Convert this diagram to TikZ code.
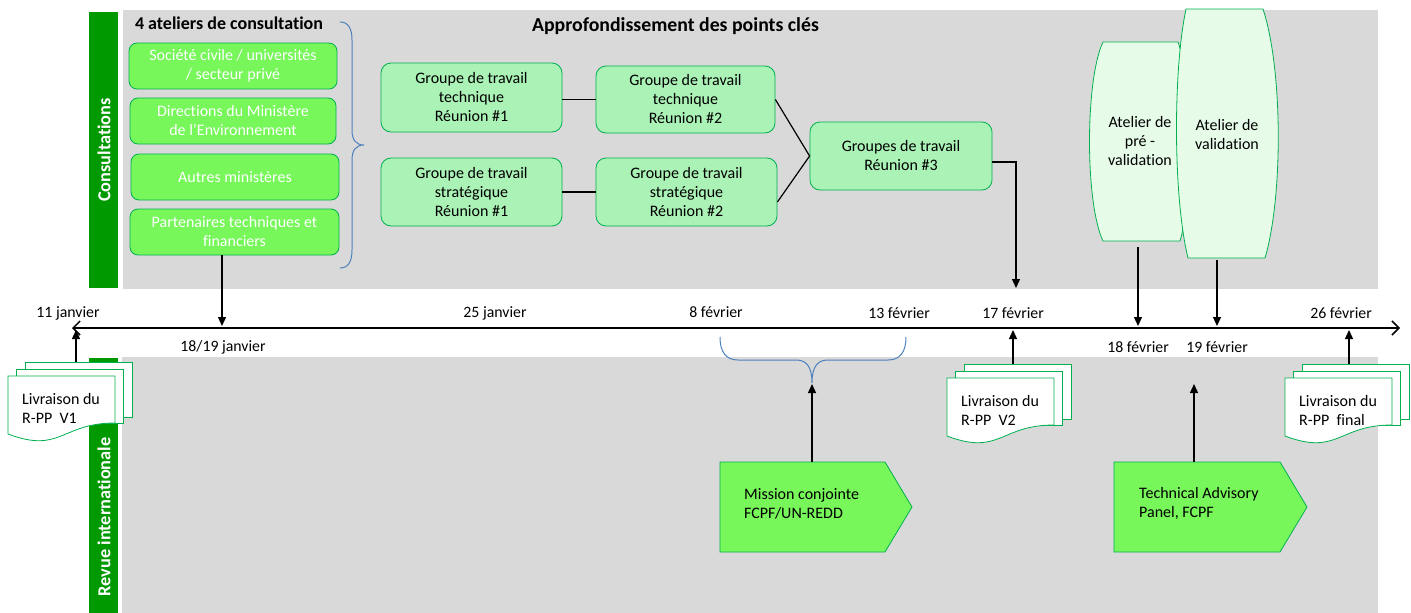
\documentclass[tikz,border=0pt]{standalone}
\usepackage{fontspec}
\setmainfont{Carlito}[RawFeature=-liga]
\usetikzlibrary{arrows.meta,calc}
\definecolor{greyband}{HTML}{D9D9D9}
\definecolor{darkgreen}{HTML}{009900}
\definecolor{brightgreen}{HTML}{77F75A}
\definecolor{lightgreen}{HTML}{AAF2B5}
\definecolor{palegreen}{HTML}{E6FCE8}
\definecolor{bordergreen}{HTML}{00B050}
\definecolor{braceblue}{HTML}{4F81BD}
\newcommand\mydocs[4]{%
  \draw[docpage] (#1+17,#2-14) rectangle (#1+124,#2+41);
  \draw[docpage] (#1+8.5,#2-7) rectangle (#1+115.5,#2+47);
  \draw[docpage] (#1,#2) -- (#1+107,#2) -- (#1+107,#2+47) .. controls (#1+53,#2+47) and (#1+53,#2+78) .. (#1,#2+58) -- cycle;
  \node[doctext, anchor=west] (#3) at (#1+14,#2+32.5) {#4};
}
\begin{document}
\begin{tikzpicture}[x=1pt,y=-1pt,
  every node/.style={inner sep=0pt, font=\fontsize{16}{19}\selectfont},
  band/.style={fill=greyband, draw=none},
  sidebar/.style={fill=darkgreen, draw=none},
  sidetext/.style={rotate=90, text=white, font=\fontsize{18.3}{20}\selectfont\bfseries},
  header/.style={anchor=base, font=\fontsize{18}{20}\selectfont\bfseries},
  atelierbox/.style={draw=bordergreen, fill=brightgreen, rounded corners=8pt, text=white, align=center, line width=0.8pt, minimum height=46pt},
  groupbox/.style={draw=bordergreen, fill=lightgreen, rounded corners=10pt, align=center, line width=0.8pt},
  scrollshape/.style={draw=bordergreen, fill=palegreen, line width=0.8pt},
  signalshape/.style={draw=bordergreen, fill=brightgreen, line width=0.8pt},
  docpage/.style={draw=bordergreen, fill=white, line width=0.8pt},
  doctext/.style={align=left},
  datelabel/.style={anchor=base, font=\fontsize{15.8}{18}\selectfont},
  link/.style={line width=1.2pt},
  arrowline/.style={line width=1.3pt, -{Triangle[length=9pt,width=8pt]}},
  timeline/.style={line width=1.5pt, {Straight Barb[length=7pt,width=14pt]}-{Straight Barb[length=7pt,width=14pt]}},
  bracestyle/.style={draw=braceblue, line width=1pt}
]
\useasboundingbox (0,0) rectangle (1411,613);
% bands
\fill[band] (123,10) rectangle (1378,289);
\fill[band] (122,357) rectangle (1378,613);
\fill[sidebar] (89,12) rectangle (118,288);
\fill[sidebar] (89,358) rectangle (118,613);
\node[sidetext] (consult) at (104,150) {Consultations};
\node[sidetext] (revue) at (104,517) {Revue internationale};
% headers
\node[header] (hdr1) at (229,29) {4 ateliers de consultation};
\node[header, font=\fontsize{19.8}{22}\selectfont\bfseries] (hdr2) at (675.5,31) {Approfondissement des points clés};
% left boxes
\node[atelierbox, minimum width=208pt] (s1) at (233,66) {Société civile / universités\\/ secteur privé};
\node[atelierbox, minimum width=206pt] (s2) at (233,121) {Directions du Ministère\\de l’Environnement};
\node[atelierbox, minimum width=208pt] (s3) at (235,177) {Autres ministères};
\node[atelierbox, minimum width=209pt] (s4) at (234.5,232) {Partenaires techniques et\\financiers};
% brace top
\draw[bracestyle] (340,22) .. controls (348,22) and (352,28) .. (352,40) -- (352,130) .. controls (352,140) and (356,145) .. (364,145) .. controls (356,145) and (352,150) .. (352,160) -- (352,250) .. controls (352,262) and (348,268) .. (340,268);
% group boxes
\node[groupbox, minimum width=181pt, minimum height=69pt] (gt1) at (471.5,97.5) {Groupe de travail\\technique\\Réunion \#1};
\node[groupbox, minimum width=179pt, minimum height=67pt] (gt2) at (685.5,99.5) {Groupe de travail\\technique\\Réunion \#2};
\node[groupbox, minimum width=181pt, minimum height=68pt] (gs1) at (471.5,192) {Groupe de travail\\stratégique\\Réunion \#1};
\node[groupbox, minimum width=181pt, minimum height=68pt] (gs2) at (686.5,192) {Groupe de travail\\stratégique\\Réunion \#2};
\node[groupbox, minimum width=182pt, minimum height=68pt] (g3) at (901,156) {Groupes de travail\\Réunion \#3};
\draw[link] (gt1.east |- gt2.west) -- (gt2.west);
\draw[link] (gs1.east) -- (gs2.west);
\draw[link] (gt2.east) -- (g3.west);
\draw[link] ($(gs2.east)+(0,10)$) -- (g3.west);
% ateliers de validation
\path[scrollshape] (1103,42) -- (1178,42) .. controls (1192,80) and (1192,203) .. (1180,241) -- (1103,241) .. controls (1085,203) and (1085,80) .. (1103,42) -- cycle;
\node[align=center] (pv) at (1140,141.5) {Atelier de\\pré -\\validation};
\path[scrollshape] (1186,9) -- (1263,9) .. controls (1283,70) and (1283,197) .. (1265,258) -- (1188,258) .. controls (1173,197) and (1173,70) .. (1186,9) -- cycle;
\node[align=center] (va) at (1227,134.5) {Atelier de\\validation};
% timeline
\coordinate (axL) at (72,328);
\coordinate (axR) at (1400,328);
\draw[timeline] (axL) -- (axR);
% date labels
\node[datelabel] (d11) at (68,317) {11 janvier};
\node[datelabel] (d25) at (495,317) {25 janvier};
\node[datelabel] (d8) at (716,317) {8 février};
\node[datelabel] (d13) at (899,318) {13 février};
\node[datelabel] (d17) at (1013,318) {17 février};
\node[datelabel] (d26) at (1341,318) {26 février};
\node[datelabel] (d1819) at (223,351) {18/19 janvier};
\node[datelabel] (d18) at (1138,352) {18 février};
\node[datelabel] (d19) at (1217,352) {19 février};
% arrows down to timeline
\coordinate (t1819) at (222,326);
\draw[arrowline] (s4.south -| t1819) -- (t1819);
\coordinate (g3end) at (1016,288);
\draw[arrowline] ($(g3.east)+(0,6)$) -| (g3end);
\coordinate (pvstart) at (1138,247);
\coordinate (t18) at (1138,326);
\draw[arrowline] (pvstart) -- (t18);
\coordinate (vastart) at (1217,260);
\coordinate (t19) at (1217,326);
\draw[arrowline] (vastart) -- (t19);
% documents
\mydocs{8}{376}{doc1}{Livraison du\\R-PP~~V1}
\mydocs{947}{378}{doc2}{Livraison du\\R-PP~~V2}
\mydocs{1285}{378}{doc3}{Livraison du\\R-PP~~final}
\coordinate (doc1top) at (76,362);
\coordinate (t11) at (76,330);
\draw[arrowline] (doc1top) -- (t11);
\coordinate (doc2top) at (1013,364);
\coordinate (t17) at (1013,330);
\draw[arrowline] (doc2top) -- (t17);
\coordinate (doc3top) at (1349,364);
\coordinate (t26) at (1349,330);
\draw[arrowline] (doc3top) -- (t26);
% lower brace
\draw[bracestyle] (720,337) .. controls (720,352) and (726,360) .. (738,360) -- (796,360) .. controls (806,360) and (812,366) .. (812,383) .. controls (812,366) and (818,360) .. (828,360) -- (888,360) .. controls (900,360) and (906,352) .. (906,337);
\coordinate (bracetip) at (812,384);
% review boxes
\path[signalshape] (720,462) -- (885,462) -- (912,507) -- (885,552) -- (720,552) -- cycle;
\node[align=left, anchor=west] (mission) at (744,503.5) {Mission conjointe\\FCPF/UN-REDD};
\path[signalshape] (1114,462) -- (1280,462) -- (1307,507) -- (1280,552) -- (1114,552) -- cycle;
\node[align=left, anchor=west] (tap) at (1139,503.5) {Technical Advisory\\Panel, FCPF};
\coordinate (misstop) at (812,462);
\draw[arrowline] (misstop) -- (bracetip);
\coordinate (taptop) at (1194,462);
\coordinate (tapend) at (1194,384);
\draw[arrowline] (taptop) -- (tapend);
\end{tikzpicture}
\end{document}
